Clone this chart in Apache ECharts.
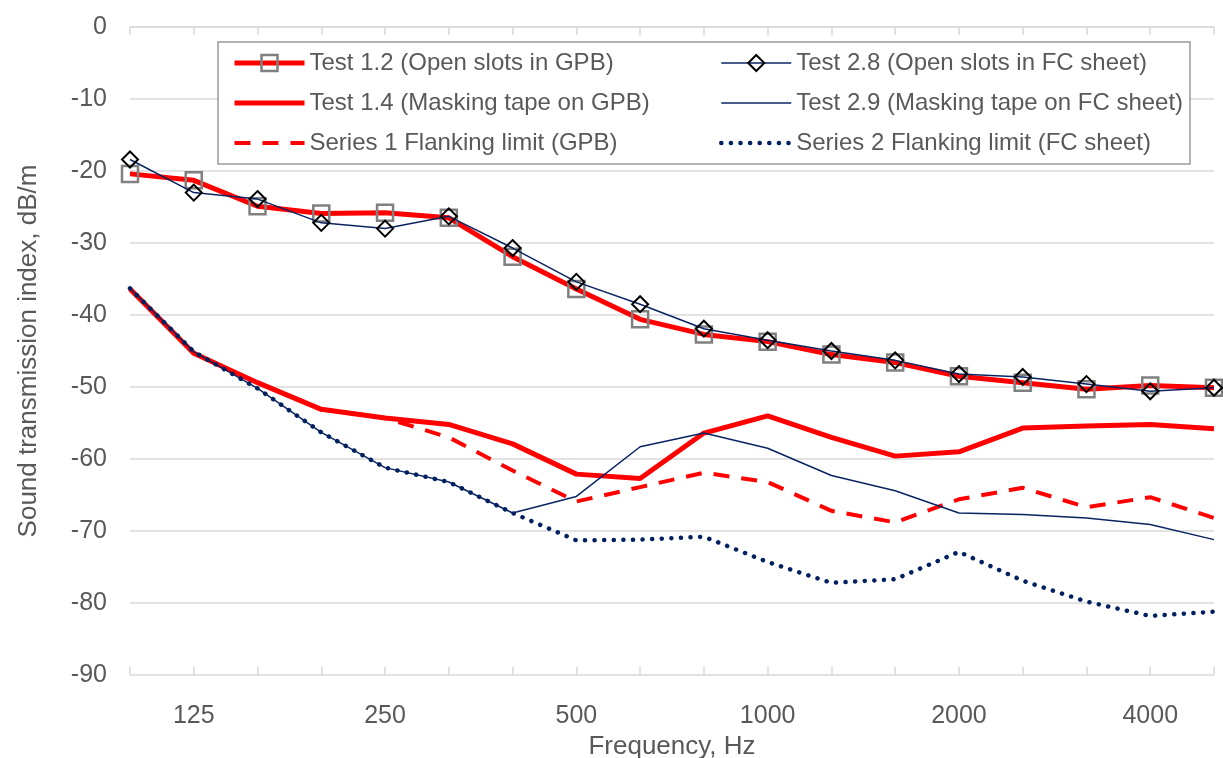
<!DOCTYPE html>
<html>
<head>
<meta charset="utf-8">
<script src="https://cdn.jsdelivr.net/npm/echarts@6/dist/echarts.min.js"></script>
<style>html,body{margin:0;padding:0;background:#fff}#c{width:1223px;height:758px}</style>
</head>
<body>
<div id="c"></div>
<script>
var categories = ['100','125','160','200','250','315','400','500','630','800','1000','1250','1600','2000','2500','3150','4000','5000'];
var test12 = [-20.4,-21.3,-24.9,-25.9,-25.8,-26.5,-31.9,-36.4,-40.6,-42.7,-43.7,-45.5,-46.6,-48.5,-49.4,-50.3,-49.8,-50.1];
var test14 = [-36.4,-45.3,-49.4,-53.1,-54.3,-55.2,-57.9,-62.1,-62.7,-56.4,-54.0,-57.0,-59.6,-59.0,-55.7,-55.4,-55.2,-55.8];
var series1 = [-36.4,-45.3,-49.4,-53.1,-54.3,-57.0,-61.6,-65.9,-63.9,-61.9,-63.2,-67.2,-68.8,-65.6,-64.0,-66.7,-65.3,-68.2];
var test28 = [-18.4,-23.0,-23.9,-27.2,-28.0,-26.3,-30.7,-35.4,-38.5,-41.9,-43.5,-45.0,-46.3,-48.2,-48.6,-49.6,-50.6,-50.1];
var test29 = [-36.3,-45.1,-50.2,-56.3,-61.2,-63.2,-67.5,-65.2,-58.3,-56.4,-58.5,-62.3,-64.4,-67.5,-67.7,-68.2,-69.1,-71.2];
var series2 = [-36.3,-45.1,-50.2,-56.3,-61.2,-63.2,-67.5,-71.3,-71.2,-70.8,-74.3,-77.2,-76.7,-72.9,-76.9,-79.8,-81.8,-81.2];
var shownLabels = ['125','250','500','1000','2000','4000'];
var names = ['Test 1.2 (Open slots in GPB)','Test 1.4 (Masking tape on GPB)','Series 1 Flanking limit (GPB)',
             'Test 2.8 (Open slots in FC sheet)','Test 2.9 (Masking tape on FC sheet)','Series 2 Flanking limit (FC sheet)'];

var RED = '#ff0000', NAVY = '#0a2463', DOT = '#002060', TXT = '#595959', GRID = '#d9d9d9';
var FONT = 'Liberation Sans, Arial, sans-serif';
var chart = echarts.init(document.getElementById('c'), null, {renderer:'canvas'});
var legendText = {color: TXT, fontSize: 24, fontFamily: FONT, lineHeight: 28};
var noSym = {color:'rgba(0,0,0,0)', borderWidth:0, borderColor:'rgba(0,0,0,0)'};
var catAxisBase = {type:'category', data: categories, boundaryGap:false, position:'bottom'};
chart.setOption({
  animation:false,
  backgroundColor:'#fff',
  grid:{left:130, right:9, top:27, bottom:83, containLabel:false, outerBoundsMode:'none'},
  graphic:[{type:'rect', z:3, shape:{x:218, y:42, width:972, height:122},
            style:{fill:'#fff', stroke:'#9a9a9a', lineWidth:1.5}}],
  legend:[
    {orient:'vertical', left:232, top:49, padding:0, itemGap:12, itemWidth:70, itemHeight:20, z:5,
     data:[
       {name:names[0], lineStyle:{width:5, color:RED}, itemStyle:{color:'rgba(255,255,255,0)', borderColor:'#808080', borderWidth:2.5}},
       {name:names[1], lineStyle:{width:5, color:RED}, itemStyle:noSym},
       {name:names[2], lineStyle:{width:4, color:RED, type:[16,12]}, itemStyle:noSym}
     ], textStyle:legendText},
    {orient:'vertical', left:719, top:49, padding:0, itemGap:12, itemWidth:70, itemHeight:20, z:5,
     data:[
       {name:names[3], lineStyle:{width:1.5, color:NAVY}, itemStyle:{color:'rgba(255,255,255,0)', borderColor:'#000', borderWidth:2}},
       {name:names[4], lineStyle:{width:1.5, color:NAVY}, itemStyle:noSym},
       {name:names[5], lineStyle:{width:4.5, color:DOT, type:[0.1,9.5], cap:'round'}, itemStyle:noSym}
     ], textStyle:legendText}
  ],
  xAxis:[
    Object.assign({}, catAxisBase, {
      name:'Frequency, Hz', nameLocation:'middle', nameGap:57,
      nameTextStyle:{color:TXT, fontSize:26, fontFamily:FONT},
      axisLine:{lineStyle:{color:GRID, width:1.5}},
      axisTick:{show:true, length:8, interval:0, lineStyle:{color:GRID, width:1.5}},
      axisLabel:{interval:function(i,v){return shownLabels.indexOf(v)>=0;}, margin:29, color:TXT, fontSize:25, fontFamily:FONT},
      splitLine:{show:false}
    }),
    Object.assign({}, catAxisBase, {
      axisLine:{show:false},
      axisTick:{show:true, inside:true, length:8, interval:0, lineStyle:{color:GRID, width:1.5}},
      axisLabel:{show:false}, splitLine:{show:false}
    })
  ],
  yAxis:{type:'value', min:-90, max:0, interval:10,
    name:'Sound transmission index, dB/m', nameLocation:'middle', nameGap:88,
    nameTextStyle:{color:TXT, fontSize:26, fontFamily:FONT},
    axisLine:{show:false}, axisTick:{show:false},
    axisLabel:{margin:23, color:TXT, fontSize:25, fontFamily:FONT},
    splitLine:{lineStyle:{color:GRID, width:1.5}}
  },
  series:[
    {name:names[0], type:'line', data:test12, symbol:'rect', symbolSize:16, showSymbol:true,
     lineStyle:{color:RED, width:5}, itemStyle:{color:'rgba(255,255,255,0)', borderColor:'#808080', borderWidth:2.5}, z:2},
    {name:names[1], type:'line', data:test14, symbol:'none', showSymbol:false,
     lineStyle:{color:RED, width:5}, itemStyle:{color:RED}, z:2},
    {name:names[2], type:'line', data:series1, symbol:'none', showSymbol:false,
     lineStyle:{color:RED, width:4, type:[16,12]}, itemStyle:{color:RED}, z:2},
    {name:names[3], type:'line', data:test28, symbol:'diamond', symbolSize:16, showSymbol:true,
     lineStyle:{color:NAVY, width:1.5}, itemStyle:{color:'rgba(255,255,255,0)', borderColor:'#000', borderWidth:2}, z:3},
    {name:names[4], type:'line', data:test29, symbol:'none', showSymbol:false,
     lineStyle:{color:NAVY, width:1.5}, itemStyle:{color:NAVY}, z:3},
    {name:names[5], type:'line', data:series2, symbol:'none', showSymbol:false,
     lineStyle:{color:DOT, width:4.5, type:[0.1,9.5], cap:'round'}, itemStyle:{color:DOT}, z:3}
  ]
});
</script>
</body>
</html>
